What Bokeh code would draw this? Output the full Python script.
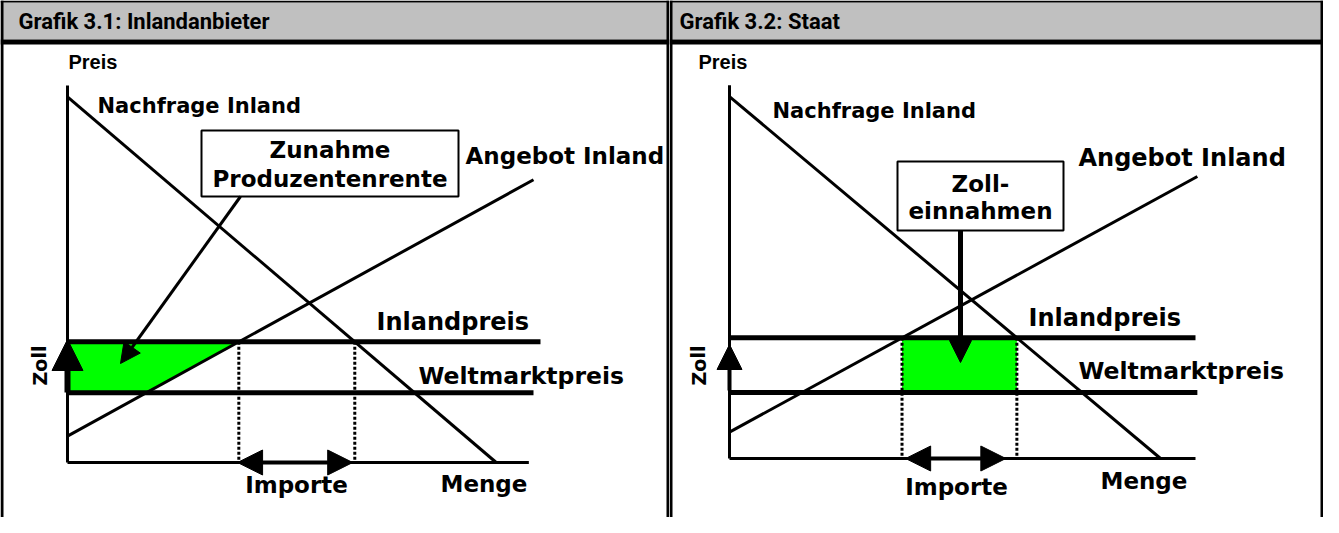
from bokeh.plotting import figure
from bokeh.models import Range1d, Arrow, NormalHead
from bokeh.layouts import row
from bokeh.core.properties import value
from bokeh.embed import file_html
from bokeh.resources import INLINE

# ---------------- data (chart units: Menge / Preis) ----------------
titel = ["Grafik 3.1: Inlandanbieter", "Grafik 3.2: Staat"]
nachfrage_menge = [[0.0, 92.0], [0.0, 92.5]]
nachfrage_preis = [[97.0, 0.0], [96.0, 0.0]]
angebot_menge = [[0.0, 100.0], [0.0, 100.4]]
angebot_preis = [[7.0, 75.0], [7.0, 74.8]]
inlandpreis = [32.0, 32.0]
weltmarktpreis = [18.5, 17.5]
inland_linie_ende = [101.5, 100.0]
welt_linie_ende = [100.0, 100.4]
menge_achse_ende = [99.0, 100.0]
preis_achse_ende = [100.0, 99.0]
importe_pfeil = [[36.5, 61.2], [37.8, 59.3]]
kasten_text = [["Zunahme", "Produzentenrente"], ["Zoll-", "einnahmen"]]
achsen_text = ["Preis", "Menge"]
kurven_text = ["Nachfrage Inland", "Angebot Inland"]
preis_text = ["Inlandpreis", "Weltmarktpreis"]
zoll_text = "Zoll"
importe_text = "Importe"

# ---------------- layout (pixels) ----------------
SX, SY = 4.66, 3.77
ORIGIN = [(67, 462), (729, 458)]
FIG_X = [(0, 669), (669, 1323)]
FIG_Y = (0, 517)
FONT = value("DejaVu Sans")
LFONT = value("Liberation Sans")
TFONT = value("Roboto")
GREEN = "#00FF00"
GREY = "#C0C0C0"

LAYOUT = [
    dict(preis=(68, 61), menge=(440, 483), nachfrage=(97, 105), angebot=(465, 155),
         angebot_size="23px",
         inland=(376, 321), welt=(418, 375), importe=(296, 484), zoll=(39, 365),
         box=(201, 458, 130, 196), boxtext=(329.5, 149, 178),
         ptr=((240, 196), (120, 363), 20, 3), zollarrow=(392, 339, 31, 6)),
    dict(preis=(698, 61), menge=(1100, 480), nachfrage=(772, 110), angebot=(1078, 157),
         angebot_size="24px",
         inland=(1028, 317), welt=(1078, 370), importe=(956, 486), zoll=(698, 365),
         box=(897, 1063, 161, 230), boxtext=(980, 183, 210),
         ptr=((960, 230), (960, 362), 22, 5), zollarrow=(390, 344, 25, 4)),
]


def panel(i):
    ox, oy = ORIGIN[i]
    fx0, fx1 = FIG_X[i]
    X = lambda rx: (rx - ox) / SX
    Y = lambda ry: (oy - ry) / SY
    L = LAYOUT[i]

    p = figure(width=fx1 - fx0, height=FIG_Y[1] - FIG_Y[0],
               x_range=Range1d(X(fx0), X(fx1)), y_range=Range1d(Y(FIG_Y[1]), Y(FIG_Y[0])),
               x_axis_type=None, y_axis_type=None, output_backend="svg",
               toolbar_location=None, min_border=0, outline_line_color=None)
    p.grid.visible = False
    p.background_fill_color = "white"
    p.border_fill_color = "white"

    # frame / header
    def box(l, r, t, b, color):
        p.quad(left=X(l), right=X(r), top=Y(t), bottom=Y(b), fill_color=color, line_color=None)

    box(fx0, fx1, 2, 39, GREY)
    box(fx0, fx1, 39, 44, "black")
    box(fx0, fx1, 0, 2, "black")
    if i == 0:
        box(0, 3, 0, 517, "black")
        box(666, 669, 0, 517, "black")
    else:
        box(669, 672, 0, 517, "black")
        box(1320, 1323, 0, 517, "black")
    p.text(x=[X(fx0 + (18 if i == 0 else 10))], y=[Y(21)], text=[titel[i]], text_font=TFONT,
           text_font_style="bold", text_font_size="22px", text_baseline="middle",
           text_align="left", text_color="black")

    # economics
    nq, npz = nachfrage_menge[i], nachfrage_preis[i]
    aq, ap = angebot_menge[i], angebot_preis[i]
    inl, welt = inlandpreis[i], weltmarktpreis[i]
    s_slope = (ap[1] - ap[0]) / (aq[1] - aq[0])
    d_slope = (npz[1] - npz[0]) / (nq[1] - nq[0])
    qs = lambda pr: aq[0] + (pr - ap[0]) / s_slope
    qd = lambda pr: nq[0] + (pr - npz[0]) / d_slope

    if i == 0:
        p.patch(x=[0, qs(inl), qs(welt), 0], y=[inl, inl, welt, welt], fill_color=GREEN, line_color=None)
    else:
        p.quad(left=qs(inl), right=qd(inl), top=inl, bottom=welt, fill_color=GREEN, line_color=None)

    p.segment(x0=[qs(inl), qd(inl)], y0=[inl, inl], x1=[qs(inl), qd(inl)], y1=[0, 0],
              line_color="black", line_width=3, line_dash="3 2")

    p.line([0, 0], [0, preis_achse_ende[i]], line_color="black", line_width=3)
    p.line([0, menge_achse_ende[i]], [0, 0], line_color="black", line_width=3)
    p.line(nq, npz, line_color="black", line_width=3)
    p.line(aq, ap, line_color="black", line_width=3)
    p.line([0, inland_linie_ende[i]], [inl, inl], line_color="black", line_width=5)
    p.line([0, welt_linie_ende[i]], [welt, welt], line_color="black", line_width=5)

    # Zoll arrow
    zb, zt, zs, zw = L["zollarrow"]
    p.add_layout(Arrow(end=NormalHead(size=zs, fill_color="black", line_color="black", line_width=1),
                       x_start=0, y_start=Y(zb), x_end=0, y_end=Y(zt),
                       line_color="black", line_width=zw))
    # Importe arrow
    ia = importe_pfeil[i]
    p.add_layout(Arrow(start=NormalHead(size=25, fill_color="black", line_color="black", line_width=1),
                       end=NormalHead(size=25, fill_color="black", line_color="black", line_width=1),
                       x_start=ia[0], y_start=0, x_end=ia[1], y_end=0,
                       line_color="black", line_width=4))

    # callout box + pointer
    bl, br, bt, bb = L["box"]
    p.quad(left=X(bl), right=X(br), top=Y(bt), bottom=Y(bb), fill_color="white",
           line_color="black", line_width=2)
    (sx0, sy0), (sx1, sy1), hs, lw = L["ptr"]
    p.add_layout(Arrow(end=NormalHead(size=hs, fill_color="black", line_color="black", line_width=1),
                       x_start=X(sx0), y_start=Y(sy0), x_end=X(sx1), y_end=Y(sy1),
                       line_color="black", line_width=lw))
    cx, y1, y2 = L["boxtext"]
    p.text(x=[X(cx), X(cx)], y=[Y(y1), Y(y2)], text=kasten_text[i], text_font=FONT,
           text_font_style="bold", text_font_size="23px", text_align="center",
           text_baseline="middle", text_color="black")

    # labels
    def lab(txt, pos, size, align="left", angle=0.0, font=FONT):
        p.text(x=[X(pos[0])], y=[Y(pos[1])], text=[txt], text_font=font, text_font_style="bold",
               text_font_size=size, text_align=align, text_baseline="middle", angle=angle,
               text_color="black")

    lab(achsen_text[0], L["preis"], "20px", font=LFONT)
    lab(achsen_text[1], L["menge"], "23px")
    lab(kurven_text[0], L["nachfrage"], "21px")
    lab(kurven_text[1], L["angebot"], L["angebot_size"])
    lab(preis_text[0], L["inland"], "24px")
    lab(preis_text[1], L["welt"], "23.5px")
    lab(importe_text, L["importe"], "23px", align="center")
    lab(zoll_text, L["zoll"], "19px", align="center", angle=1.5708)
    return p


layout = row(panel(0), panel(1))
open("out.html", "w").write(file_html(layout, INLINE))
